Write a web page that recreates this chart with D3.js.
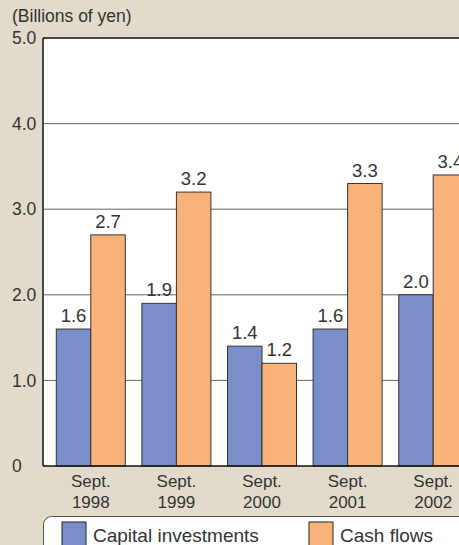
<!DOCTYPE html>
<html>
<head>
<meta charset="utf-8">
<script src="https://cdn.jsdelivr.net/npm/d3@7"></script>
<style>
  html, body { margin: 0; padding: 0; background: #e2dbcb; }
  svg { display: block; }
  text { font-family: "Liberation Sans", Arial, sans-serif; fill: #333; }
</style>
</head>
<body>
<div id="chart"></div>
<script>
// données (milliards de yens)
const years = ["1998", "1999", "2000", "2001", "2002"];
const capitalInvestments = [1.6, 1.9, 1.4, 1.6, 2.0];
const cashFlows = [2.7, 3.2, 1.2, 3.3, 3.4];
const yTicks = [0, 1, 2, 3, 4, 5];
const seriesNames = ["Capital investments", "Cash flows"];
const seriesColors = ["#7a8fc9", "#f9b277"];

const W = 459, H = 545;
const plot = { left: 43, top: 38, bottom: 466, right: 480 };

const svg = d3.select("#chart")
    .append("svg")
    .attr("width", W)
    .attr("height", H);

// échelles
const y = d3.scaleLinear()
    .domain([0, 5])
    .range([plot.bottom, plot.top]);

const x0 = d3.scaleBand()
    .domain(years)
    .range([48, 476])
    .paddingInner(0.194)
    .paddingOuter(0.097);

const x1 = d3.scaleBand()
    .domain([0, 1])
    .range([0, x0.bandwidth()]);

// zone blanche du graphique
svg.append("rect")
    .attr("x", plot.left)
    .attr("y", plot.top)
    .attr("width", plot.right - plot.left)
    .attr("height", plot.bottom - plot.top)
    .attr("fill", "#fff");

// lignes de grille
svg.selectAll(".grid")
    .data(yTicks.filter(t => t > 0 && t < 5))
    .enter().append("line")
    .attr("class", "grid")
    .attr("x1", plot.left)
    .attr("x2", plot.right)
    .attr("y1", d => y(d))
    .attr("y2", d => y(d))
    .attr("stroke", "#666")
    .attr("stroke-width", 1);

// barres
const rows = years.map((yr, i) => ({ year: yr, values: [capitalInvestments[i], cashFlows[i]] }));

const groups = svg.selectAll(".group")
    .data(rows)
    .enter().append("g")
    .attr("class", "group")
    .attr("transform", d => `translate(${x0(d.year)},0)`);

groups.selectAll("rect")
    .data(d => d.values.map((v, k) => ({ k: k, v: v })))
    .enter().append("rect")
    .attr("x", d => x1(d.k))
    .attr("y", d => y(d.v))
    .attr("width", x1.bandwidth())
    .attr("height", d => y(0) - y(d.v))
    .attr("fill", d => seriesColors[d.k])
    .attr("stroke", "#333")
    .attr("stroke-width", 1);

// étiquettes de valeur
groups.selectAll(".value")
    .data(d => d.values.map((v, k) => ({ k: k, v: v })))
    .enter().append("text")
    .attr("class", "value")
    .attr("x", d => x1(d.k) + x1.bandwidth() / 2)
    .attr("y", d => y(d.v) - 7)
    .attr("text-anchor", "middle")
    .attr("font-size", "18.5px")
    .text(d => d3.format(".1f")(d.v));

// cadre : haut, gauche, bas
svg.append("line")
    .attr("x1", plot.left).attr("x2", plot.right)
    .attr("y1", plot.top).attr("y2", plot.top)
    .attr("stroke", "#111").attr("stroke-width", 1.5);
svg.append("line")
    .attr("x1", plot.left).attr("x2", plot.left)
    .attr("y1", plot.top).attr("y2", plot.bottom)
    .attr("stroke", "#111").attr("stroke-width", 1.5);
svg.append("line")
    .attr("x1", plot.left).attr("x2", plot.right)
    .attr("y1", plot.bottom).attr("y2", plot.bottom)
    .attr("stroke", "#111").attr("stroke-width", 1.5);

// axe y
svg.selectAll(".ytick")
    .data(yTicks)
    .enter().append("text")
    .attr("class", "ytick")
    .attr("x", 12)
    .attr("y", d => y(d))
    .attr("dy", "0.35em")
    .attr("font-size", "17.5px")
    .text(d => d === 0 ? "0" : d3.format(".1f")(d));

svg.append("text")
    .attr("x", 12)
    .attr("y", 22)
    .attr("font-size", "17.5px")
    .text("(Billions of yen)");

// axe x : deux lignes
svg.selectAll(".xlab")
    .data(years)
    .enter().append("text")
    .attr("class", "xlab")
    .attr("text-anchor", "middle")
    .attr("font-size", "17px")
    .each(function (d) {
        const t = d3.select(this);
        const cx = x0(d) + x0.bandwidth() / 2;
        t.append("tspan").attr("x", cx).attr("y", 487).text("Sept.");
        t.append("tspan").attr("x", cx).attr("y", 508).text(d);
    });

// légende
svg.append("rect")
    .attr("x", 43.5)
    .attr("y", 516.5)
    .attr("width", 440)
    .attr("height", 60)
    .attr("rx", 8)
    .attr("fill", "#fff")
    .attr("stroke", "#555")
    .attr("stroke-width", 1);

const legendX = [62, 309];
const legend = svg.selectAll(".legend")
    .data(seriesNames)
    .enter().append("g")
    .attr("class", "legend")
    .attr("transform", (d, i) => `translate(${legendX[i]},522)`);

legend.append("rect")
    .attr("width", 24)
    .attr("height", 26)
    .attr("fill", (d, i) => seriesColors[i])
    .attr("stroke", "#222")
    .attr("stroke-width", 1);

legend.append("text")
    .attr("x", 31)
    .attr("y", 20)
    .attr("font-size", "19px")
    .text(d => d);
</script>
</body>
</html>
